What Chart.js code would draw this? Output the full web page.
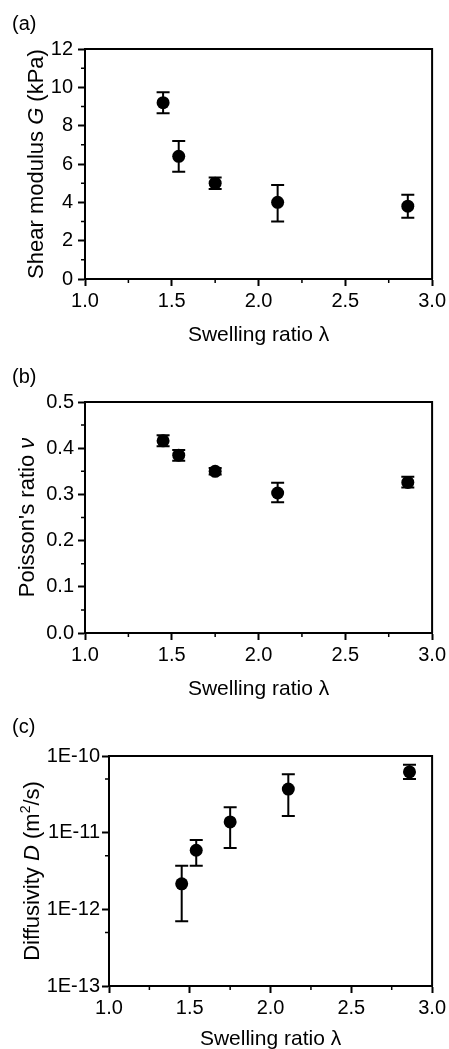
<!DOCTYPE html>
<html>
<head>
<meta charset="utf-8">
<script src="https://cdn.jsdelivr.net/npm/chart.js@4/dist/chart.umd.min.js"></script>
<style>
  body { margin: 0; background: #fff; width: 449px; height: 1049px; overflow: hidden; position: relative; font-family: "Liberation Sans", Arial, sans-serif; }
  .panel { position: absolute; left: 0; width: 449px; height: 360px; }
  .tag { position: absolute; left: 12px; font-size: 20px; line-height: 24px; color: #000; }
</style>
</head>
<body>
<div class="panel" style="top:0"><canvas id="chartA" width="449" height="360"></canvas></div>
<div class="panel" style="top:350px"><canvas id="chartB" width="449" height="360"></canvas></div>
<div class="panel" style="top:700px"><canvas id="chartC" width="449" height="360"></canvas></div>
<div class="tag" style="top:11px">(a)</div>
<div class="tag" style="top:364px">(b)</div>
<div class="tag" style="top:714px">(c)</div>
<script>
// data
const swellRatio = [1.45, 1.54, 1.75, 2.11, 2.86];

const shearG   = [9.2, 6.4, 5.0, 4.0, 3.8];
const shearLo  = [8.65, 5.6, 4.7, 3.0, 3.2];
const shearHi  = [9.75, 7.2, 5.3, 4.9, 4.4];

const poisson   = [0.416, 0.385, 0.350, 0.303, 0.326];
const poissonLo = [0.404, 0.373, 0.343, 0.283, 0.315];
const poissonHi = [0.428, 0.396, 0.357, 0.325, 0.338];

const diffD   = [2.15e-12, 5.9e-12, 1.38e-11, 3.7e-11, 6.2e-11];
const diffLo  = [7.0e-13, 3.7e-12, 6.3e-12, 1.65e-11, 5.0e-11];
const diffHi  = [3.7e-12, 8.0e-12, 2.15e-11, 5.8e-11, 7.7e-11];

// tick labels
const xTicks = [1.0, 1.5, 2.0, 2.5, 3.0];
const xMinor = [1.25, 1.75, 2.25, 2.75];
const shearTicks = [0, 2, 4, 6, 8, 10, 12];
const shearMinor = [1, 3, 5, 7, 9, 11];
const poissonTicks = [0, 0.1, 0.2, 0.3, 0.4, 0.5];
const poissonMinor = [0.05, 0.15, 0.25, 0.35, 0.45];
const diffTicks = [1e-13, 1e-12, 1e-11, 1e-10];
const diffMinor = [5e-13, 5e-12, 5e-11];

const FONT = '"Liberation Sans", Arial, sans-serif';

// error bars, minor ticks, box frame and the mixed-style y title
const extras = {
  id: 'extras',
  beforeDatasetsDraw(chart, args, opts) {
    const { ctx, scales: { x, y } } = chart;
    ctx.save();
    ctx.strokeStyle = '#000';
    ctx.lineWidth = 2;
    swellRatio.forEach((v, i) => {
      const px = x.getPixelForValue(v);
      const yl = y.getPixelForValue(opts.lower[i]);
      const yh = y.getPixelForValue(opts.upper[i]);
      ctx.beginPath();
      ctx.moveTo(px, yl); ctx.lineTo(px, yh);
      ctx.moveTo(px - 6.5, yl); ctx.lineTo(px + 6.5, yl);
      ctx.moveTo(px - 6.5, yh); ctx.lineTo(px + 6.5, yh);
      ctx.stroke();
    });
    ctx.restore();
  },
  afterDraw(chart, args, opts) {
    const { ctx, chartArea: a, scales: { x, y } } = chart;
    ctx.save();
    ctx.strokeStyle = '#000';
    ctx.lineWidth = 2;
    ctx.beginPath();
    ctx.moveTo(a.left, a.top); ctx.lineTo(a.right, a.top); ctx.lineTo(a.right, a.bottom);
    ctx.stroke();
    ctx.lineWidth = 1.5;
    ctx.beginPath();
    xMinor.forEach(v => {
      const px = x.getPixelForValue(v);
      ctx.moveTo(px, a.bottom); ctx.lineTo(px, a.bottom + 4);
    });
    opts.minorY.forEach(v => {
      const py = y.getPixelForValue(v);
      ctx.moveTo(a.left, py); ctx.lineTo(a.left - 4, py);
    });
    ctx.stroke();

    // y axis title
    const segs = opts.yTitle;
    const fontOf = s => (s.italic ? 'italic ' : '') + (s.sup ? 14 : 22) + 'px ' + FONT;
    let total = 0;
    segs.forEach(s => { ctx.font = fontOf(s); total += ctx.measureText(s.text).width; });
    ctx.translate(opts.titleX, (a.top + a.bottom) / 2);
    ctx.rotate(-Math.PI / 2);
    ctx.fillStyle = '#000';
    ctx.textBaseline = 'middle';
    ctx.textAlign = 'left';
    let cx = -total / 2;
    segs.forEach(s => {
      ctx.font = fontOf(s);
      ctx.fillText(s.text, cx, s.sup ? -7 : 0);
      cx += ctx.measureText(s.text).width;
    });
    ctx.restore();
  }
};

function makePanel(id, p) {
  new Chart(document.getElementById(id), {
    type: 'scatter',
    data: {
      datasets: [{
        data: swellRatio.map((v, i) => ({ x: v, y: p.values[i] })),
        backgroundColor: '#000',
        borderWidth: 0,
        pointRadius: 6.5,
        pointHoverRadius: 6.5
      }]
    },
    options: {
      responsive: false,
      animation: false,
      devicePixelRatio: 1,
      layout: { padding: { top: p.top, right: 16, bottom: p.bottom, left: 0 } },
      plugins: {
        legend: { display: false },
        tooltip: { enabled: false },
        extras: { lower: p.lower, upper: p.upper, minorY: p.minorY, yTitle: p.yTitle, titleX: p.titleX }
      },
      scales: {
        x: {
          type: 'linear',
          min: 1, max: 3,
          afterBuildTicks: s => { s.ticks = xTicks.map(v => ({ value: v })); },
          afterFit: s => { s.height = p.xHeight; },
          border: { display: true, color: '#000', width: 2 },
          grid: { drawOnChartArea: false, drawTicks: true, tickLength: 7, tickWidth: 2, tickColor: '#000' },
          ticks: { color: '#000', font: { family: FONT, size: 20 }, padding: 3, maxRotation: 0,
                   callback: v => v.toFixed(1) },
          title: { display: true, text: 'Swelling ratio λ', color: '#000',
                   font: { family: FONT, size: 21 }, padding: 0 }
        },
        y: {
          type: p.yType,
          min: p.yMin, max: p.yMax,
          afterBuildTicks: s => { s.ticks = p.yTicks.map(v => ({ value: v })); },
          afterFit: s => { s.width = p.yWidth; },
          border: { display: true, color: '#000', width: 2 },
          grid: { drawOnChartArea: false, drawTicks: true, tickLength: 7, tickWidth: 2, tickColor: '#000' },
          ticks: { color: '#000', font: { family: FONT, size: 20 }, padding: p.tickPad,
                   callback: p.fmt }
        }
      }
    },
    plugins: [extras]
  });
}

makePanel('chartA', {
  values: shearG, lower: shearLo, upper: shearHi,
  yType: 'linear', yMin: 0, yMax: 12, yTicks: shearTicks, minorY: shearMinor,
  fmt: v => String(v),
  top: 49, bottom: 12, xHeight: 69, yWidth: 85, tickPad: 5, titleX: 37,
  yTitle: [{ text: 'Shear modulus ' }, { text: 'G', italic: true }, { text: ' (kPa)' }]
});

makePanel('chartB', {
  values: poisson, lower: poissonLo, upper: poissonHi,
  yType: 'linear', yMin: 0, yMax: 0.5, yTicks: poissonTicks, minorY: poissonMinor,
  fmt: v => v.toFixed(1),
  top: 52, bottom: 8, xHeight: 69, yWidth: 85, tickPad: 4, titleX: 28,
  yTitle: [{ text: "Poisson's ratio " }, { text: 'ν', italic: true }]
});

makePanel('chartC', {
  values: diffD, lower: diffLo, upper: diffHi,
  yType: 'logarithmic', yMin: 1e-13, yMax: 1e-10, yTicks: diffTicks, minorY: diffMinor,
  fmt: v => '1E' + Math.round(Math.log10(v)),
  top: 56, bottom: 8, xHeight: 66, yWidth: 109, tickPad: 2, titleX: 33,
  yTitle: [{ text: 'Diffusivity ' }, { text: 'D', italic: true }, { text: ' (m' },
           { text: '2', sup: true }, { text: '/s)' }]
});
</script>
</body>
</html>
